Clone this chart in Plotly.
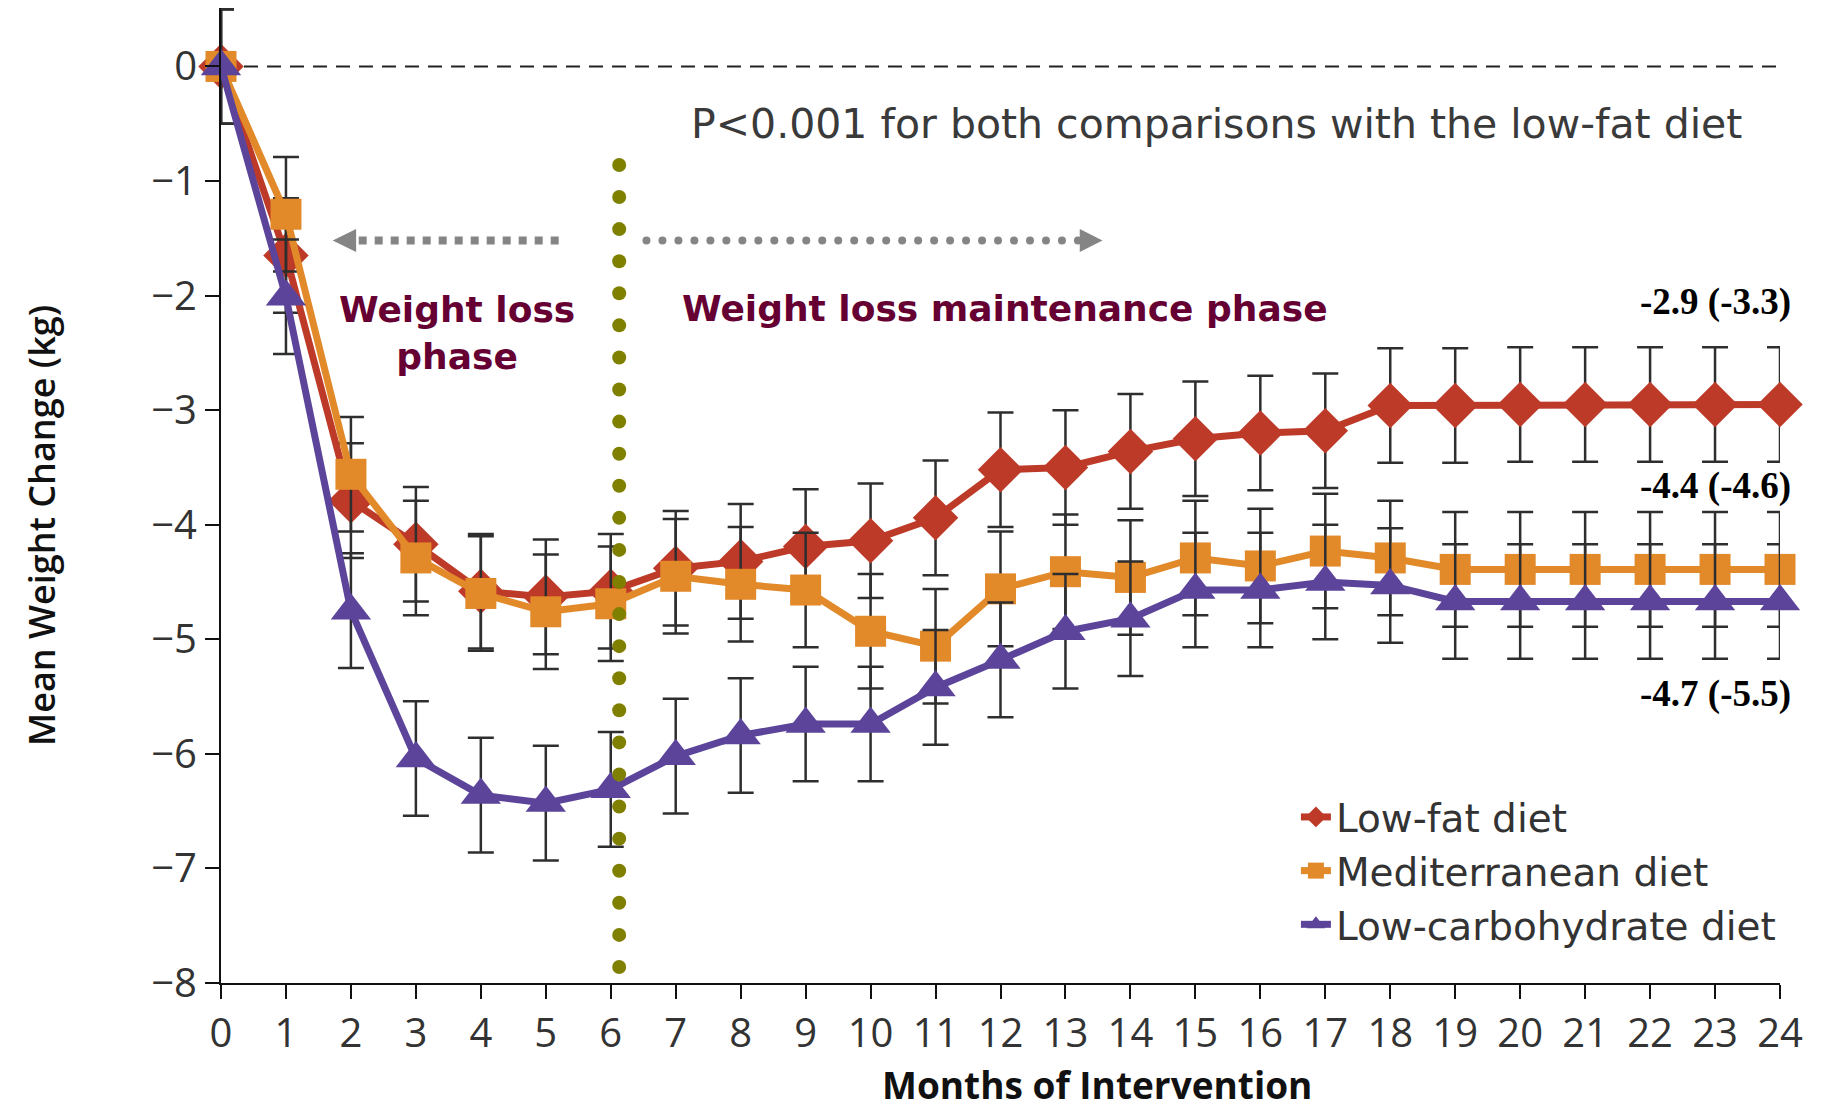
import numpy as np
import plotly.graph_objects as go

# ---------------- data ----------------
months = [0, 1, 2, 3, 4, 5, 6, 7, 8, 9, 10, 11, 12, 13, 14, 15, 16, 17, 18, 19, 20, 21, 22, 23, 24]

low_fat = [0, -1.65, -3.79, -4.17, -4.58, -4.63, -4.58, -4.38, -4.32, -4.19, -4.14, -3.94, -3.52,
           -3.50, -3.36, -3.25, -3.20, -3.18, -2.96, -2.96, -2.95, -2.95, -2.95, -2.95, -2.95]
mediterranean = [0, -1.29, -3.56, -4.29, -4.60, -4.76, -4.69, -4.45, -4.52, -4.57, -4.93, -5.06, -4.56,
                 -4.41, -4.46, -4.29, -4.36, -4.23, -4.29, -4.39, -4.39, -4.39, -4.39, -4.39, -4.39]
low_carb = [0, -2.01, -4.75, -6.04, -6.36, -6.43, -6.31, -6.02, -5.84, -5.74, -5.74, -5.42, -5.18,
            -4.93, -4.82, -4.57, -4.57, -4.50, -4.53, -4.67, -4.67, -4.67, -4.67, -4.67, -4.67]

err_low_fat = [0.5, 0.5, 0.5, 0.5, 0.5, 0.5, 0.5, 0.5, 0.5, 0.5, 0.5, 0.5, 0.5,
               0.5, 0.5, 0.5, 0.5, 0.5, 0.5, 0.5, 0.5, 0.5, 0.5, 0.5, 0.5]
err_mediterranean = [0.5, 0.5, 0.5, 0.5, 0.5, 0.5, 0.5, 0.5, 0.5, 0.5, 0.5, 0.5, 0.5,
                     0.5, 0.5, 0.5, 0.5, 0.5, 0.5, 0.5, 0.5, 0.5, 0.5, 0.5, 0.5]
err_low_carb = [0.5, 0.5, 0.5, 0.5, 0.5, 0.5, 0.5, 0.5, 0.5, 0.5, 0.5, 0.5, 0.5,
                0.5, 0.5, 0.5, 0.5, 0.5, 0.5, 0.5, 0.5, 0.5, 0.5, 0.5, 0.5]

series_names = ["Low-fat diet", "Mediterranean diet", "Low-carbohydrate diet"]
end_labels = ["-2.9 (-3.3)", "-4.4 (-4.6)", "-4.7 (-5.5)"]
end_label_y = [-2.06, -3.66, -5.48]

y_ticks = [0, -1, -2, -3, -4, -5, -6, -7, -8]

# ---------------- styling ----------------
colors = ["#BE3A28", "#E2892A", "#5B449A"]
symbols = ["diamond", "square", "triangle-up"]
sizes = [35, 31, 35]

fig = go.Figure()

for name, vals, errs, col, sym, sz in zip(series_names, [low_fat, mediterranean, low_carb],
                                          [err_low_fat, err_mediterranean, err_low_carb],
                                          colors, symbols, sizes):
    fig.add_trace(go.Scatter(
        x=months, y=vals, mode="lines+markers", name=name,
        line=dict(color=col, width=7),
        marker=dict(symbol=sym, size=sz, color=col, line=dict(width=0)),
        error_y=dict(type="data", array=errs, visible=True, color="#2e2e2e", thickness=2.5, width=13),
        cliponaxis=False,
    ))

# vertical olive dotted divider at end of weight-loss phase (decoration)
div_y = np.linspace(-0.86, -7.86, 26)
fig.add_trace(go.Scatter(
    x=[6.13] * len(div_y), y=div_y, mode="markers", showlegend=False, hoverinfo="skip",
    marker=dict(symbol="circle", size=14, color="#808000"), cliponaxis=False,
))

# right dotted arrow shaft (round dots)
arr_x = np.arange(6.55, 13.2, 0.246)
fig.add_trace(go.Scatter(
    x=arr_x, y=[-1.52] * len(arr_x), mode="markers", showlegend=False, hoverinfo="skip",
    marker=dict(symbol="circle", size=8, color="#858585"), cliponaxis=False,
))

shapes = [
    # zero reference line
    dict(type="line", xref="x", yref="y", x0=0, x1=24, y0=0, y1=0,
         line=dict(color="#222222", width=2, dash="14px,9px"), layer="below"),
    # left arrow shaft (square dashes)
    dict(type="line", xref="x", yref="y", x0=2.12, x1=5.21, y0=-1.52, y1=-1.52,
         line=dict(color="#858585", width=8, dash="8px,8px")),
    # left arrow head
    dict(type="path", xref="x", yref="y", path="M 1.72,-1.52 L 2.08,-1.42 L 2.08,-1.62 Z",
         fillcolor="#858585", line=dict(width=0)),
    # right arrow head
    dict(type="path", xref="x", yref="y", path="M 13.57,-1.52 L 13.22,-1.42 L 13.22,-1.62 Z",
         fillcolor="#858585", line=dict(width=0)),
]

annotations = [
    dict(x=15.32, y=-0.506, xref="x", yref="y", text="P<0.001 for both comparisons with the low-fat diet",
         showarrow=False, xanchor="center", yanchor="middle",
         font=dict(family="DejaVu Sans", size=41, color="#3a3a3a")),
    dict(x=3.63, y=-2.33, xref="x", yref="y", text="Weight loss<br>phase",
         showarrow=False, xanchor="center", yanchor="middle",
         font=dict(family="DejaVu Sans", size=36, color="#660033", weight="bold")),
    dict(x=12.07, y=-2.11, xref="x", yref="y", text="Weight loss maintenance phase",
         showarrow=False, xanchor="center", yanchor="middle",
         font=dict(family="DejaVu Sans", size=36, color="#660033", weight="bold")),
    dict(x=13.49, y=-0.1046, xref="x", yref="paper", text="Months of Intervention",
         showarrow=False, xanchor="center", yanchor="middle",
         font=dict(family="Open Sans", size=37, color="#111111", weight="bold")),
    dict(x=-0.1155, y=0.4697, xref="paper", yref="paper", text="Mean Weight Change (kg)",
         showarrow=False, xanchor="center", yanchor="middle", textangle=-90,
         font=dict(family="Open Sans", size=36, color="#111111", weight=600)),
]
for lab, ly in zip(end_labels, end_label_y):
    annotations.append(dict(x=1.0083, y=ly, xref="paper", yref="y", text=lab, showarrow=False,
                            xanchor="right", yanchor="middle",
                            font=dict(family="Liberation Serif", size=37, color="#000000", weight="bold")))

# the page body adds an 8px offset, so the figure is 8px smaller than the window
fig.update_layout(
    width=1816, height=1105,
    margin=dict(l=213, r=44, t=0, b=130),
    plot_bgcolor="white", paper_bgcolor="white",
    shapes=shapes, annotations=annotations,
    showlegend=True,
    legend=dict(x=0.6895, y=0.203, xanchor="left", yanchor="top",
                font=dict(family="DejaVu Sans", size=39, color="#333333"),
                bgcolor="rgba(0,0,0,0)", itemsizing="trace", tracegroupgap=0),
    xaxis=dict(range=[0, 24], tickmode="array", tickvals=months, showline=True, linecolor="#111111",
               linewidth=2, ticks="outside", ticklen=14, tickwidth=2, tickcolor="#111111",
               tickfont=dict(family="Open Sans", size=40, color="#333333"),
               showgrid=False, zeroline=False),
    yaxis=dict(range=[-8, 0.51], tickmode="array", tickvals=y_ticks, showline=True, linecolor="#111111",
               linewidth=2, ticks="outside", ticklen=14, tickwidth=2, tickcolor="#111111",
               tickfont=dict(family="Open Sans", size=40, color="#333333"),
               showgrid=False, zeroline=False),
)

fig.write_html("out.html")
